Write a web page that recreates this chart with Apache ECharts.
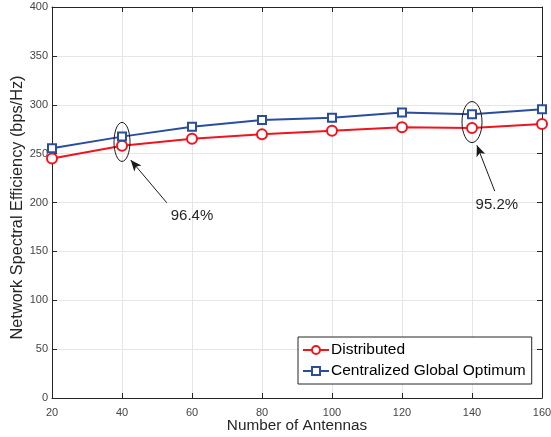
<!DOCTYPE html>
<html><head><meta charset="utf-8">
<script src="https://cdn.jsdelivr.net/npm/echarts@6/dist/echarts.min.js"></script>
<style>html,body{margin:0;padding:0;background:#fff}#c{width:551px;height:437px}</style>
</head><body><div id="c"></div>
<script>
const antennas = [20, 40, 60, 80, 100, 120, 140, 160];
const distributed = [245, 258, 265.3, 269.7, 273.5, 277, 276.2, 280.3];
const centralized = [255.4, 267.4, 277.6, 284.4, 286.8, 292, 290.3, 295.4];
const xTicks = [20, 40, 60, 80, 100, 120, 140, 160];
const yTicks = [0, 50, 100, 150, 200, 250, 300, 350, 400];
const annotations = [
  { text: '96.4%', at: 40, textPos: [60, 186.7], arrowFrom: [52.8, 199.7], arrowTo: [42.5, 243.4], ellipseCenter: [40, 262] },
  { text: '95.2%', at: 140, textPos: [147.1, 198], arrowFrom: [146.5, 211.6], arrowTo: [141.4, 258.5], ellipseCenter: [140, 282.3] }
];

const FONT = 'Liberation Sans, Arial, Helvetica, sans-serif';
const AX = '#262626';
const chart = echarts.init(document.getElementById('c'), null, {renderer: 'canvas'});
const baseX = {
  type: 'value', min: 20, max: 160, interval: 20,
  axisLine: {show: true, onZero: false, lineStyle: {color: AX, width: 1}},
  axisTick: {show: true, inside: true, length: 5, lineStyle: {color: AX}},
  splitLine: {show: false}
};
const baseY = {
  type: 'value', min: 0, max: 400, interval: 50,
  axisLine: {show: true, onZero: false, lineStyle: {color: AX, width: 1}},
  axisTick: {show: true, inside: true, length: 5, lineStyle: {color: AX}},
  splitLine: {show: false}
};
const option = {
  animation: false,
  backgroundColor: '#fff',
  textStyle: {fontFamily: FONT},
  grid: {left: 52, right: 9, top: 7, bottom: 39, containLabel: false, outerBoundsMode: 'none'},
  legend: {
    orient: 'vertical', left: 298, top: 337,
    padding: [5, 6, 5, 4], itemGap: 5,
    itemWidth: 26, itemHeight: 10,
    borderColor: AX, borderWidth: 1, backgroundColor: '#fff',
    textStyle: {fontSize: 15.5, color: '#000', fontFamily: FONT, padding: [0, 0, 0, -3]},
    data: ['Distributed', 'Centralized Global Optimum']
  },
  xAxis: [
    Object.assign({}, baseX, {
      position: 'bottom',
      name: 'Number of Antennas', nameLocation: 'middle', nameGap: 20, nameMoveOverlap: false,
      nameTextStyle: {fontSize: 15.3, color: AX, fontFamily: FONT},
      axisLabel: {fontSize: 11, color: '#444', margin: 9, fontFamily: FONT},
      splitLine: {show: true, lineStyle: {color: '#e6e6e6', width: 1}}
    }),
    Object.assign({}, baseX, {position: 'top', axisLabel: {show: false}})
  ],
  yAxis: [
    Object.assign({}, baseY, {
      position: 'left',
      name: 'Network Spectral Efficiency (bps/Hz)', nameLocation: 'middle', nameGap: 26, nameMoveOverlap: false,
      nameTextStyle: {fontSize: 16.3, color: AX, fontFamily: FONT, padding: [0, 10, 0, 0]},
      axisLabel: {fontSize: 11, color: '#444', margin: 4, fontFamily: FONT},
      splitLine: {show: true, lineStyle: {color: '#e6e6e6', width: 1}}
    }),
    Object.assign({}, baseY, {position: 'right', axisLabel: {show: false}})
  ],
  series: [
    {
      name: 'Distributed', type: 'line',
      data: antennas.map((x, i) => [x, distributed[i]]),
      color: '#f0141e',
      lineStyle: {width: 2, color: '#f0141e'},
      symbol: 'circle', symbolSize: 10, showAllSymbol: true,
      itemStyle: {color: '#fff', borderColor: '#f0141e', borderWidth: 2},
      z: 3,
      markLine: {
        silent: true, symbol: ['none', 'arrow'], symbolSize: [7, 11],
        label: {show: false},
        lineStyle: {color: '#1a1a1a', width: 1, type: 'solid'},
        data: annotations.map(a => [{coord: a.arrowFrom}, {coord: a.arrowTo}])
      }
    },
    {
      name: 'Centralized Global Optimum', type: 'line',
      data: antennas.map((x, i) => [x, centralized[i]]),
      color: '#2a4d9e',
      lineStyle: {width: 2, color: '#2a4d9e'},
      symbol: 'rect', symbolSize: 8, showAllSymbol: true,
      itemStyle: {color: '#fff', borderColor: '#2a4d9e', borderWidth: 2},
      z: 4
    }
  ]
};
chart.setOption(option);

function drawAnnotations() {
  const g = [];
  annotations.forEach((a, i) => {
    const c = chart.convertToPixel({xAxisIndex: 0, yAxisIndex: 0}, a.ellipseCenter);
    const t = chart.convertToPixel({xAxisIndex: 0, yAxisIndex: 0}, a.textPos);
    g.push({
      type: 'ellipse', silent: true, z: 10,
      shape: {cx: c[0], cy: c[1], rx: i === 0 ? 8 : 10, ry: i === 0 ? 19.5 : 20.5},
      style: {fill: 'none', stroke: '#1a1a1a', lineWidth: 1}
    });
    g.push({
      type: 'text', silent: true, z: 10,
      x: t[0], y: t[1],
      style: {text: a.text, fill: '#262626', font: '15px ' + FONT, align: 'center', verticalAlign: 'middle'}
    });
  });
  chart.setOption({graphic: g});
}
drawAnnotations();
</script>
</body></html>
